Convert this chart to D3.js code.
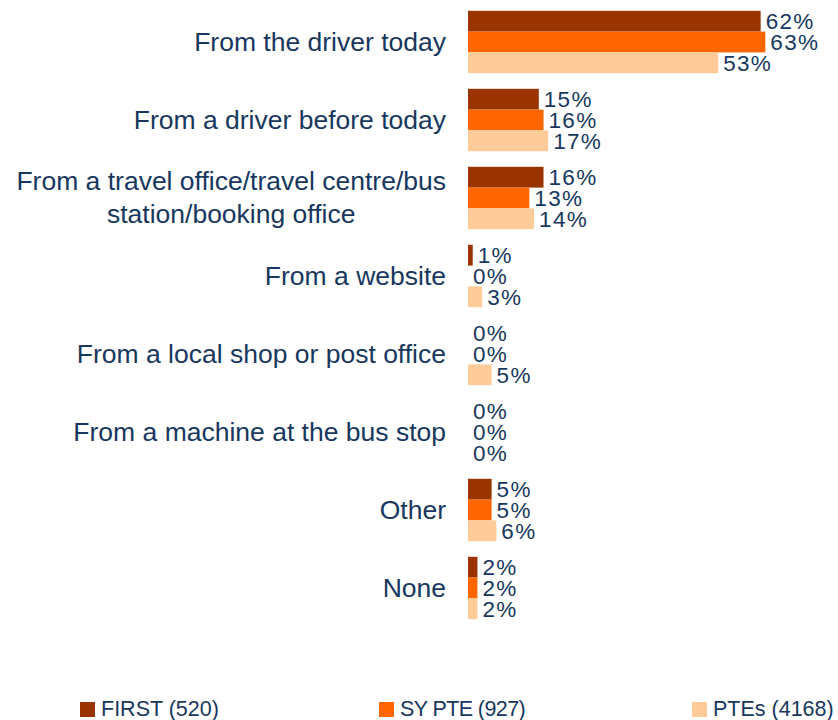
<!DOCTYPE html>
<html>
<head>
<meta charset="utf-8">
<script src="https://cdn.jsdelivr.net/npm/d3@7"></script>
<style>
  body { margin: 0; background: #fff; }
  text { font-family: "Liberation Sans", Arial, sans-serif; fill: #17375e; }
</style>
</head>
<body>
<div id="container"></div>
<script>
/* CONSTANTS AND GLOBALS */
const width = 838,
      height = 720;

// data
const categories = [
  ["From the driver today"],
  ["From a driver before today"],
  ["From a travel office/travel centre/bus", "station/booking office"],
  ["From a website"],
  ["From a local shop or post office"],
  ["From a machine at the bus stop"],
  ["Other"],
  ["None"]
];
const seriesNames = ["FIRST (520)", "SY PTE (927)", "PTEs (4168)"];
const seriesColors = ["#993300", "#ff6600", "#ffcc99"];
const first = [62, 15, 16, 1, 0, 0, 5, 2];
const sypte = [63, 16, 13, 0, 0, 0, 5, 2];
const ptes  = [53, 17, 14, 3, 5, 0, 6, 2];

const series = [first, sypte, ptes];
const catKeys = categories.map((c, i) => i);

// + SCALES
const xScale = d3.scaleLinear().domain([0, 100]).range([468, 940]);
const yScale = d3.scaleBand()
  .domain(catKeys)
  .range([3, 627])
  .paddingInner(0.2)
  .paddingOuter(0.1);
const y1 = d3.scaleBand()
  .domain([0, 1, 2])
  .range([0, yScale.bandwidth()]);

const svg = d3.select("#container").append("svg")
  .attr("width", width)
  .attr("height", height);

// bars + value labels
const groups = svg.selectAll("g.cat")
  .data(catKeys)
  .join("g")
  .attr("class", "cat")
  .attr("transform", d => `translate(0,${yScale(d)})`);

groups.selectAll("rect")
  .data(i => series.map((s, k) => ({k, v: s[i]})))
  .join("rect")
  .attr("x", xScale(0))
  .attr("y", d => y1(d.k))
  .attr("width", d => xScale(d.v) - xScale(0))
  .attr("height", y1.bandwidth())
  .attr("fill", d => seriesColors[d.k]);

groups.selectAll("text.val")
  .data(i => series.map((s, k) => ({k, v: s[i]})))
  .join("text")
  .attr("class", "val")
  .attr("x", d => xScale(d.v) + 5)
  .attr("y", d => y1(d.k) + y1.bandwidth() / 2)
  .attr("dy", "0.35em")
  .style("font-size", "22.5px")
  .style("letter-spacing", "1.3px")
  .text(d => d.v + "%");

// category labels: block right aligned, lines centred in the block
const labelRight = 446, lineH = 33;
catKeys.forEach(i => {
  const lines = categories[i];
  const cy = yScale(i) + yScale.bandwidth() / 2;
  const t = svg.append("text")
    .style("font-size", "26.5px")
    .attr("text-anchor", "middle");
  lines.forEach((ln, j) => {
    t.append("tspan")
      .attr("y", cy + (j - (lines.length - 1) / 2) * lineH)
      .attr("dy", "0.33em")
      .text(ln);
  });
  const w = d3.max(t.selectAll("tspan").nodes(), n => n.getComputedTextLength());
  t.selectAll("tspan").attr("x", labelRight - w / 2);
});

// + LEGEND
const legendX = [80, 379, 692];
const legend = svg.selectAll("g.legend")
  .data(seriesNames)
  .join("g")
  .attr("class", "legend")
  .attr("transform", (d, i) => `translate(${legendX[i]},702)`);
legend.append("rect")
  .attr("width", 15).attr("height", 15)
  .attr("fill", (d, i) => seriesColors[i]);
legend.append("text")
  .attr("x", 21).attr("y", 14)
  .style("font-size", "21.5px")
  .style("letter-spacing", (d, i) => i === 1 ? "-0.6px" : "0px")
  .text(d => d);
</script>
</body>
</html>
